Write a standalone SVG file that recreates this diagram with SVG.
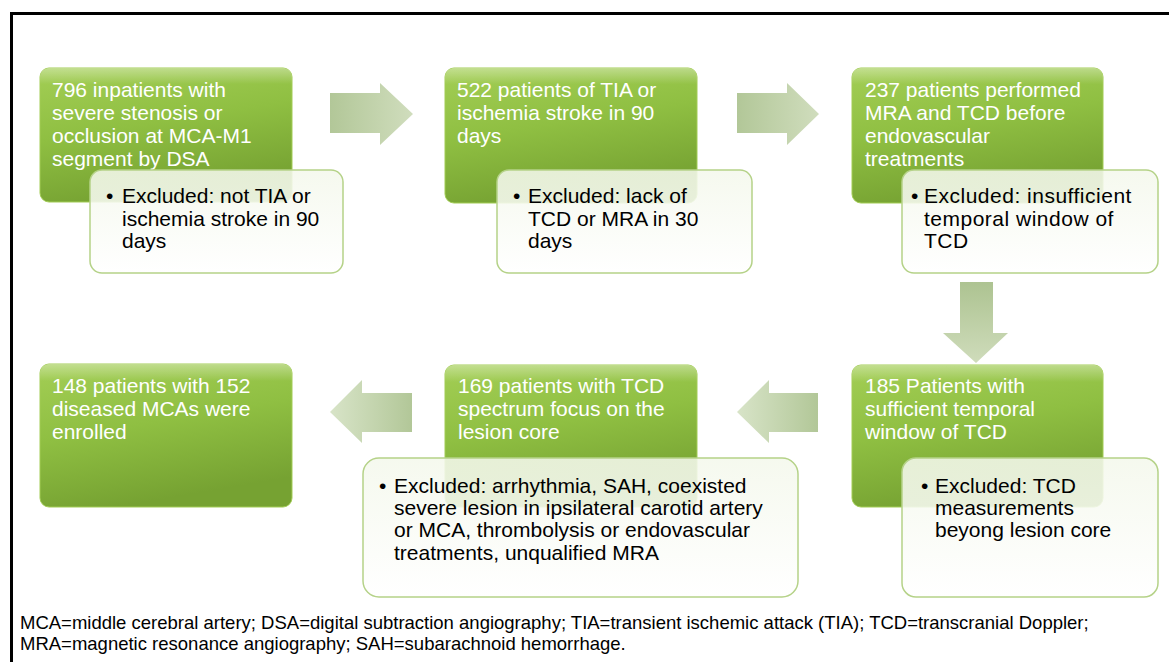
<svg xmlns="http://www.w3.org/2000/svg" width="1169" height="662" viewBox="0 0 1169 662">
<defs>
<linearGradient id="gGreen" x1="0" y1="0" x2="0.3" y2="1">
<stop offset="0" stop-color="#a3ce55"/>
<stop offset="0.5" stop-color="#8fbf42"/>
<stop offset="1" stop-color="#76a232"/>
</linearGradient>
<linearGradient id="gShine" x1="0" y1="0" x2="0" y2="1">
<stop offset="0" stop-color="#ffffff" stop-opacity="0.35"/>
<stop offset="0.12" stop-color="#ffffff" stop-opacity="0"/>
</linearGradient>
<linearGradient id="gWhite" x1="0" y1="0" x2="0" y2="1">
<stop offset="0" stop-color="#f4f8ec"/>
<stop offset="1" stop-color="#ffffff"/>
</linearGradient>
<linearGradient id="aRight" x1="0" y1="0" x2="1" y2="0">
<stop offset="0" stop-color="#b2c798"/>
<stop offset="1" stop-color="#d0ddbd"/>
</linearGradient>
<linearGradient id="aLeft" x1="1" y1="0" x2="0" y2="0">
<stop offset="0" stop-color="#b2c798"/>
<stop offset="1" stop-color="#d8e4c8"/>
</linearGradient>
<linearGradient id="aDown" x1="0" y1="0" x2="0" y2="1">
<stop offset="0" stop-color="#adc391"/>
<stop offset="1" stop-color="#cfdcbb"/>
</linearGradient>
</defs>
<style>
.gbox{fill:url(#gGreen);stroke:#a2cc55;stroke-width:1}
.shine{fill:url(#gShine)}
.wbox{fill:url(#gWhite);fill-opacity:0.88;stroke:#b5d288;stroke-width:1.5}
.gt{font-family:"Liberation Sans",Arial,sans-serif;font-size:21px;fill:#ffffff}
.wt{font-family:"Liberation Sans",Arial,sans-serif;font-size:21px;fill:#000000}
.fn{font-family:"Liberation Sans",Arial,sans-serif;font-size:18.5px;fill:#000000}
</style>
<rect x="0" y="0" width="1169" height="662" fill="#ffffff"/>
<rect x="11.5" y="13.5" width="1200" height="700" fill="none" stroke="#000000" stroke-width="3"/>

<g id="connectors">
<polygon points="330,93 380,93 380,83 413,114 380,145 380,133 330,133" fill="url(#aRight)"/>
<polygon points="737,93 787,93 787,83 819,114 787,145 787,133 737,133" fill="url(#aRight)"/>
<polygon points="960,282 993,282 993,333 1008,333 976,363 943,333 960,333" fill="url(#aDown)"/>
<polygon points="412,393 362,393 362,380 330,412 362,443 362,432 412,432" fill="url(#aLeft)"/>
<polygon points="818,393 769,393 769,380 737,412 769,443 769,432 818,432" fill="url(#aLeft)"/>
</g>

<g id="n1">
<rect class="gbox" x="40" y="68" width="252" height="134" rx="9"/>
<rect class="shine" x="40" y="68" width="252" height="134" rx="9"/>
<text class="gt"><tspan x="52" y="97">796 inpatients with</tspan><tspan x="52" y="120">severe stenosis or</tspan><tspan x="52" y="143">occlusion at MCA-M1</tspan><tspan x="52" y="166">segment by DSA</tspan></text>
</g>
<g id="e1">
<rect class="wbox" x="90" y="170" width="253" height="103" rx="12"/>
<text class="wt"><tspan x="106" y="203">•</tspan><tspan x="122" y="203">Excluded: not TIA or</tspan><tspan x="122" y="226">ischemia stroke in 90</tspan><tspan x="122" y="248">days</tspan></text>
</g>

<g id="n2">
<rect class="gbox" x="445" y="68" width="252" height="135" rx="9"/>
<rect class="shine" x="445" y="68" width="252" height="135" rx="9"/>
<text class="gt"><tspan x="457" y="97">522 patients of TIA or</tspan><tspan x="457" y="120">ischemia stroke in 90</tspan><tspan x="457" y="143">days</tspan></text>
</g>
<g id="e2">
<rect class="wbox" x="497" y="170" width="255" height="103" rx="12"/>
<text class="wt"><tspan x="513" y="203">•</tspan><tspan x="528" y="203">Excluded: lack of</tspan><tspan x="528" y="226">TCD or MRA in 30</tspan><tspan x="528" y="248">days</tspan></text>
</g>

<g id="n3">
<rect class="gbox" x="852" y="68" width="251" height="135" rx="9"/>
<rect class="shine" x="852" y="68" width="251" height="135" rx="9"/>
<text class="gt"><tspan x="865" y="97">237 patients performed</tspan><tspan x="865" y="120">MRA and TCD  before</tspan><tspan x="865" y="143">endovascular</tspan><tspan x="865" y="166">treatments</tspan></text>
</g>
<g id="e3">
<rect class="wbox" x="902" y="170" width="256" height="103" rx="12"/>
<text class="wt" style="letter-spacing:0.5px"><tspan x="911" y="203">•</tspan><tspan x="924" y="203">Excluded: insufficient</tspan><tspan x="924" y="226">temporal window of</tspan><tspan x="924" y="248">TCD</tspan></text>
</g>

<g id="n6">
<rect class="gbox" x="852" y="365" width="251" height="142" rx="9"/>
<rect class="shine" x="852" y="365" width="251" height="142" rx="9"/>
<text class="gt"><tspan x="865" y="393">185 Patients with</tspan><tspan x="865" y="416">sufficient temporal</tspan><tspan x="865" y="439">window of TCD</tspan></text>
</g>
<g id="e6">
<rect class="wbox" x="902" y="458" width="256" height="139" rx="14"/>
<text class="wt"><tspan x="921" y="493">•</tspan><tspan x="935" y="493">Excluded: TCD</tspan><tspan x="935" y="515">measurements</tspan><tspan x="935" y="537">beyong lesion core</tspan></text>
</g>

<g id="n5">
<rect class="gbox" x="445" y="365" width="252" height="142" rx="9"/>
<rect class="shine" x="445" y="365" width="252" height="142" rx="9"/>
<text class="gt"><tspan x="458" y="393">169 patients with TCD</tspan><tspan x="458" y="416">spectrum focus on the</tspan><tspan x="458" y="439">lesion core</tspan></text>
</g>
<g id="e5">
<rect class="wbox" x="363" y="458" width="435" height="139" rx="16"/>
<text class="wt"><tspan x="379" y="493">•</tspan><tspan x="394" y="493">Excluded: arrhythmia, SAH, coexisted</tspan><tspan x="394" y="515">severe lesion in ipsilateral carotid artery</tspan><tspan x="394" y="537">or MCA, thrombolysis or endovascular</tspan><tspan x="394" y="560">treatments, unqualified MRA</tspan></text>
</g>

<g id="n4">
<rect class="gbox" x="40" y="364" width="252" height="143" rx="9"/>
<rect class="shine" x="40" y="364" width="252" height="143" rx="9"/>
<text class="gt"><tspan x="52" y="393">148 patients with 152</tspan><tspan x="52" y="416">diseased MCAs were</tspan><tspan x="52" y="439">enrolled</tspan></text>
</g>

<g id="footnote">
<text class="fn"><tspan x="20" y="629">MCA=middle cerebral artery; DSA=digital subtraction angiography; TIA=transient ischemic attack (TIA); TCD=transcranial Doppler;</tspan><tspan x="20" y="650">MRA=magnetic resonance angiography; SAH=subarachnoid hemorrhage.</tspan></text>
</g>
</svg>
